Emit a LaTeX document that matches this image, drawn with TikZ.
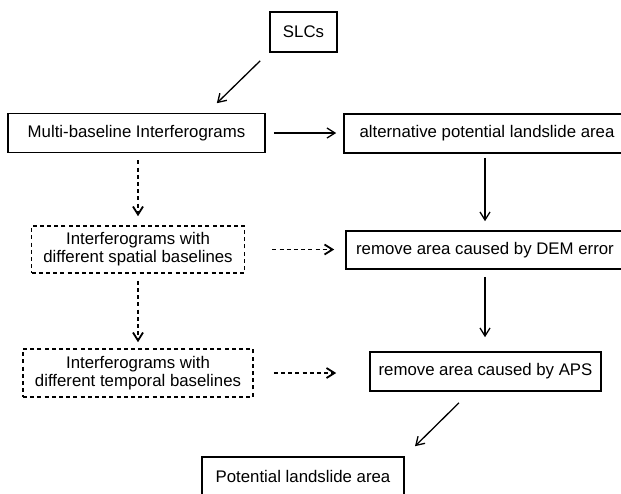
\documentclass[tikz,border=0pt]{standalone}
\usepackage{fontspec}
\setmainfont{Liberation Sans}
\usetikzlibrary{arrows.meta,calc}
\begin{document}
\begin{tikzpicture}[x=0.5pt,y=-0.5pt,
  box/.style={draw,line width=0.8pt,inner sep=1pt,align=center,font=\fontsize{8.4}{9}\selectfont},
  dbox/.style={box,dash pattern=on 2pt off 1.6pt},
  arr/.style={line width=0.65pt,-{Straight Barb[length=4pt,width=5pt]}},
  darr/.style={arr,line width=0.9pt,dash pattern=on 2pt off 1.6pt}]
\useasboundingbox (0,0) rectangle (621,493);
\clip (0,0) rectangle (621,493);
% boxes
\draw (303.5,32) node [box,minimum width=33.5pt,minimum height=20pt] (slc) {SLCs};
\draw (136.5,133) node [box,minimum width=128.5pt,minimum height=19.5pt] (mbi) {Multi-baseline Interferograms};
\draw (487,133.5) node [box,minimum width=143pt,minimum height=19.5pt] (alt) {alternative potential landslide area};
\draw (138,249.5) node [dbox,minimum width=106.5pt,minimum height=23.5pt] (spa) {Interferograms with\\different spatial baselines};
\draw (485,250) node [box,minimum width=139pt,minimum height=19pt] (dem) {remove area caused by DEM error};
\draw (138,373) node [dbox,minimum width=115pt,minimum height=24pt] (tem) {Interferograms with\\different temporal baselines};
\draw (485.5,371.5) node [box,minimum width=115.5pt,minimum height=19.5pt] (aps) {remove area caused by APS};
\draw (303,476.5) node [box,minimum width=101pt,minimum height=19.5pt] (pot) {Potential landslide area};
% solid arrows
\draw [arr] ($(slc.south west)+(-9,8)$) -- ($(mbi.north east)+(-49,-9.5)$);
\draw [arr,shorten <=4pt,shorten >=3.5pt] (mbi.east) -- (mbi.east -| alt.west);
\draw [arr,shorten <=2pt,shorten >=4.5pt] (dem.north |- alt.south) -- (dem.north);
\draw [arr,shorten <=3.5pt,shorten >=7pt] (dem.south) -- (dem.south |- aps.north);
\draw [arr] ($(aps.south)+(-26.5,11)$) -- ($(pot.north)+(112,-10)$);
% dashed arrows
\draw [darr,shorten <=3.5pt,shorten >=4.5pt] (spa.north |- mbi.south) -- (spa.north);
\draw [darr,shorten <=3.5pt,shorten >=3pt] (spa.south) -- (spa.south |- tem.north);
\draw [darr,shorten <=13.5pt,shorten >=5.5pt] (spa.east) -- (spa.east -| dem.west);
\draw [darr,shorten <=10pt,shorten >=16.5pt] (tem.east) -- (tem.east -| aps.west);
\end{tikzpicture}
\end{document}
